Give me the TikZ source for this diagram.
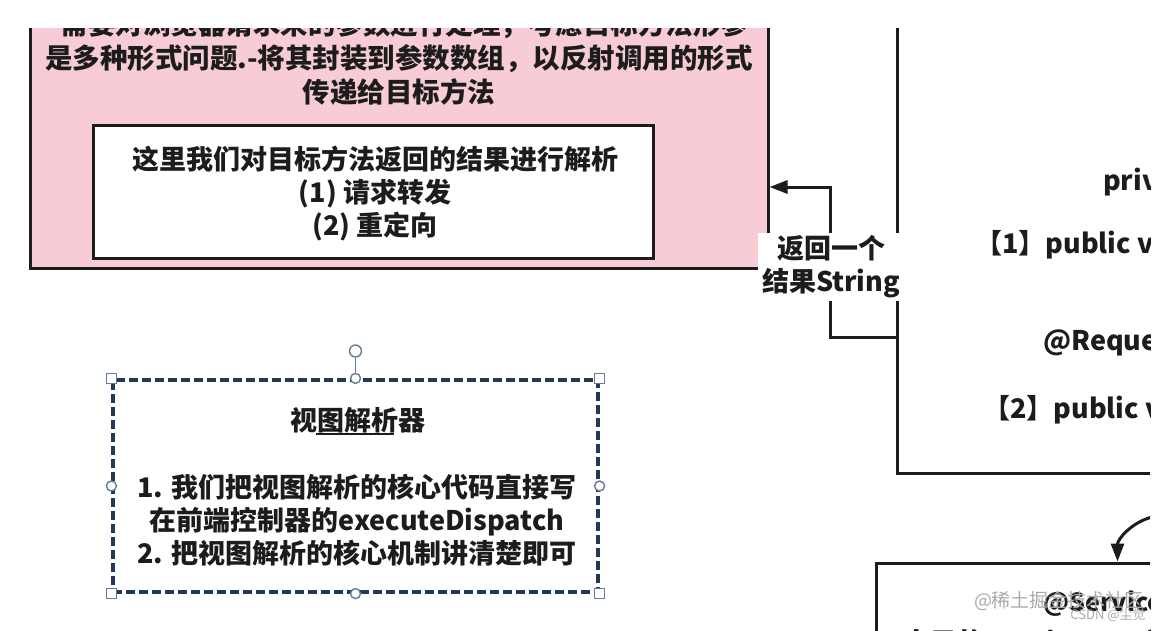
\documentclass[tikz,border=0pt]{standalone}
\usepackage{fontspec}
\newfontfamily\cjk{Noto Sans CJK SC}
\usetikzlibrary{arrows.meta,positioning,calc}

\definecolor{pinkfill}{RGB}{248,204,212}
\definecolor{ink}{RGB}{28,28,28}
\definecolor{selline}{RGB}{34,58,88}
\definecolor{handle}{RGB}{100,124,152}
\definecolor{wmark}{RGB}{170,170,170}

\begin{document}
\begin{tikzpicture}[
    x=1pt, y=-1pt,
    font=\cjk\bfseries\fontsize{27}{33}\selectfont,
    >={Triangle[length=18pt,width=13pt]},
    box/.style={draw=ink, line width=3pt, inner sep=0pt},
    txt/.style={align=center, text=ink, inner sep=0pt},
    arr/.style={->, draw=ink, line width=3pt},
    lbl/.style={fill=white, align=center, text=ink,
                inner xsep=4pt, inner ysep=3pt},
    % dashed frame of the selected shape
    selbox/.style={draw=selline, line width=3.2pt,
                   dash pattern=on 9pt off 4pt, inner sep=0pt},
    % resize / rotate handles
    sqhandle/.style={draw=handle, fill=white, line width=1.4pt,
                     minimum size=10pt, inner sep=0pt},
    cirhandle/.style={draw=handle, fill=white, line width=1.4pt,
                      circle, minimum size=10pt, inner sep=0pt},
    wm/.style={text=wmark, font=\cjk\fontsize{19}{20}\selectfont, inner sep=0pt},
]

\useasboundingbox (0,0) rectangle (1157,630);

\begin{scope}
\clip (0,28) rectangle (1150,630);

%% ── Boxes ───────────────────────────────────────────────────────────────────
\node[box, fill=pinkfill, minimum width=738pt, minimum height=288pt]
    (mapper) at (399,124) {};
\node[txt, font=\cjk\bfseries\fontsize{27.5}{34}\selectfont] (mappertxt) at (399,58)
    {-需要对浏览器请求来的参数进行处理，考虑目标方法形参\\
     是多种形式问题.-将其封装到参数数组，以反射调用的形式\\
     传递给目标方法};

\node[box, fill=white, minimum width=560pt, minimum height=133pt]
    (result) at (373,191.5) {};
\node[txt] (resulttxt) at (375,193)
    {这里我们对目标方法返回的结果进行解析\\
     (1) 请求转发\\
     (2) 重定向};

\node[box, minimum width=553pt, minimum height=493pt]
    (ctrl) at (1173.5,226.5) {};
\node[txt, anchor=west] (ctrlA) at (1103,182) {private};
\node[txt, anchor=west] (ctrlB) at (975,245) {【1】public void};
\node[txt, anchor=west] (ctrlC) at (1043,343) {@RequestMapping};
\node[txt, anchor=west] (ctrlD) at (983,410) {【2】public void};

\node[box, minimum width=524pt, minimum height=237pt]
    (svc) at (1138,681.5) {};
\node[txt, anchor=west, font=\cjk\bfseries\fontsize{25}{30}\selectfont]
    (svcA) at (1043,604) {@Service};
\node[txt, anchor=west] (svcB) at (903,642) {自己的ServiceService};

%% ── Return arrow: controller → mapper ──────────────────────────────────────
\coordinate (retlow) at (830,337);
\coordinate (retup)  at (830,187);
\draw[arr] (ctrl.west |- retlow) -- (retlow) -- (retup)
    -- (mapper.east |- retup);
\node[lbl] (retlbl) at (831,267) {返回一个\\结果String};

%% ── Arrow into service box (comes from outside the crop) ───────────────────
\coordinate (svcsrc) at (1152,517);
\draw[arr] (svcsrc) to[out=195, in=90] ([xshift=243pt]svc.north west);

%% ── Selected view resolver note ────────────────────────────────────────────
\node[selbox, minimum width=485pt, minimum height=212pt]
    (view) at (355.5,486) {};
\node[txt] (viewtitle) at (358,420) {视图解析器};
\draw[ink, line width=1.4pt] (316,434) -- (394,434);
\node[txt] (viewtxt) at (357,520)
    {1. 我们把视图解析的核心代码直接写\\
     在前端控制器的executeDispatch\\
     2. 把视图解析的核心机制讲清楚即可};

\node[cirhandle, minimum size=12pt] (rot) at (355.5,351) {};
\draw[handle, line width=1.6pt] (rot.south) -- (view.north);
\foreach \a in {north west, north east, south west, south east}
    \node[sqhandle] at (view.\a) {};
\foreach \a in {north, south, west, east}
    \node[cirhandle] at (view.\a) {};

%% ── Watermarks ──────────────────────────────────────────────────────────────
\node[wm] (wm1) at (1059,601) {@稀土掘金技术社区};
\node[wm, font=\cjk\fontsize{13}{14}\selectfont] (wm2) at (1108,615) {CSDN @尘觉};

\end{scope}
\end{tikzpicture}
\end{document}
